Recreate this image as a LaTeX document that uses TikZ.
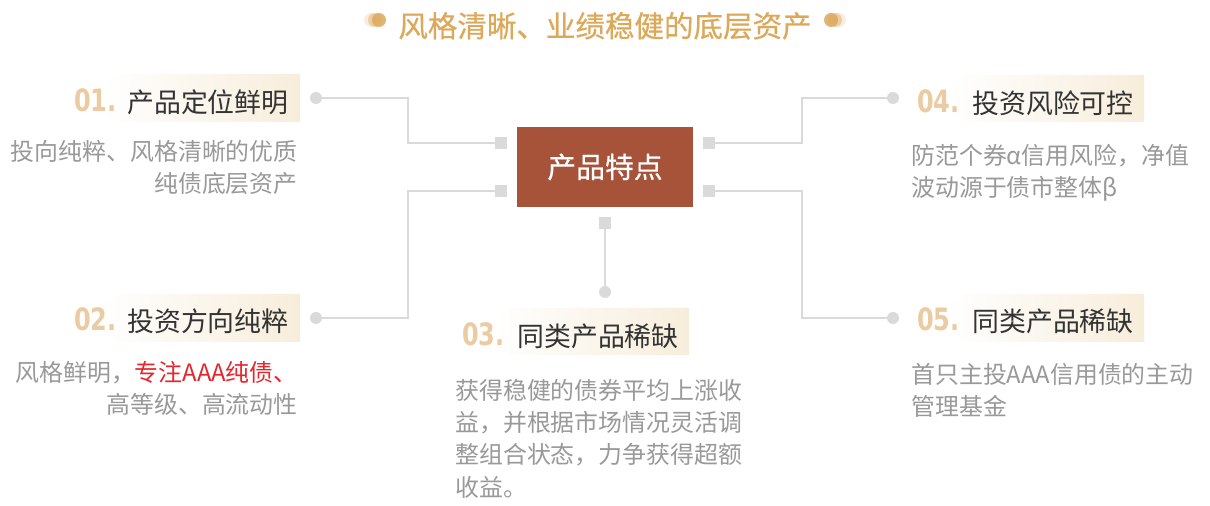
\documentclass[tikz,border=0pt]{standalone}
\usepackage{fontspec}
\setmainfont{Noto Sans CJK SC}
\newfontfamily\numfont[FakeStretch=0.78]{DejaVu Sans}
\newfontfamily\heavyfont[FakeBold=0.6]{Noto Sans CJK SC}
\usetikzlibrary{calc, positioning}

\definecolor{gold}{HTML}{DCA95B}
\definecolor{numTan}{HTML}{EBCBA1}
\definecolor{pillBeige}{HTML}{F7EDDB}
\definecolor{boxRed}{HTML}{A6533A}
\definecolor{lineGray}{HTML}{DADADA}
\definecolor{headGray}{HTML}{333333}
\definecolor{descGray}{HTML}{999999}
\definecolor{markRed}{HTML}{E5262D}

\tikzset{
  sqmark/.style={fill=lineGray, minimum size=0.24cm, inner sep=0pt},
  dotmark/.style={circle, fill=lineGray, minimum size=0.24cm, inner sep=0pt},
  conn/.style={draw=lineGray, line width=1.1pt},
  heading/.style={anchor=base west, inner sep=0pt, text=headGray,
    font=\fontsize{15.3pt}{18pt}\selectfont},
  number/.style={anchor=base east, inner sep=0pt, text=numTan,
    font=\numfont\bfseries\fontsize{17.5pt}{18pt}\selectfont},
  desc/.style={inner sep=0pt, text=descGray,
    font=\fontsize{13.6pt}{18.4pt}\selectfont},
  pill/.style={left color=white, right color=pillBeige},
  core/.style={fill=boxRed, text=white, minimum width=3.52cm, minimum height=1.6cm,
    inner sep=0pt, font=\heavyfont\fontsize{16.4pt}{18pt}\selectfont}
}

\begin{document}
\begin{tikzpicture}[x=0.02cm, y=-0.02cm]
      \useasboundingbox (0,0) rectangle (1210,506);
      \fill[white] (0,0) rectangle (1210,506);

      % --- Title ---
      \node[anchor=base, inner sep=0pt, text=gold,
        font=\heavyfont\fontsize{16.8pt}{18pt}\selectfont] (title) at (605,37)
        {风格清晰、业绩稳健的底层资产};
      \foreach \i/\o in {0/0.2, 1/0.45, 2/0.85}
        \fill[gold, opacity=\o] (371+4*\i,20) circle[radius=7];
      \foreach \i/\o in {0/0.85, 1/0.45, 2/0.2}
        \fill[gold, opacity=\o] (831+4*\i,20) circle[radius=7];

      % --- Central box and its marks ---
      \node[core] (core) at (605,167) {产品特点};

      \node[sqmark] (sqL1) at (501,143) {};
      \node[sqmark] (sqL2) at (501,191) {};
      \node[sqmark] (sqR1) at (709,143) {};
      \node[sqmark] (sqR2) at (709,191) {};
      \node[sqmark] (sqB)  at (605,223) {};

      \node[dotmark] (dot1) at (316,98) {};
      \node[dotmark] (dot2) at (316,318) {};
      \node[dotmark] (dot3) at (605,292) {};
      \node[dotmark] (dot4) at (893,98) {};
      \node[dotmark] (dot5) at (893,318) {};

      % --- Connectors ---
      \coordinate (kneeL) at (408,0);
      \coordinate (kneeR) at (802,0);

      \draw[conn] (sqL1) -- (sqL1 -| kneeL) |- (dot1);
      \draw[conn] (sqL2) -- (sqL2 -| kneeL) |- (dot2);
      \draw[conn] (sqR1) -- (sqR1 -| kneeR) |- (dot4);
      \draw[conn] (sqR2) -- (sqR2 -| kneeR) |- (dot5);
      \draw[conn] (sqB) -- (dot3);

      % --- Heading backgrounds ---
      \shade[pill] (300,74) -- (126,74) arc[start angle=270, end angle=90, radius=24] -- (300,122) -- cycle;
      \shade[pill] (300,294) -- (124,294) arc[start angle=270, end angle=90, radius=24] -- (300,342) -- cycle;
      \shade[pill] (689,308) -- (517,308) arc[start angle=270, end angle=90, radius=23.5] -- (689,355) -- cycle;
      \shade[pill] (1144,75) -- (971,75) arc[start angle=270, end angle=90, radius=23.5] -- (1144,122) -- cycle;
      \shade[pill] (1144,294) -- (971,294) arc[start angle=270, end angle=90, radius=24] -- (1144,342) -- cycle;

      % --- 01 ---
      \node[number] (num1) at (117,112) {01.};
      \node[heading] (head1) at (127,113) {产品定位鲜明};
      \node[desc, anchor=base east, align=right] (desc1) at (298,193)
        {投向纯粹、风格清晰的优质\\纯债底层资产};

      % --- 02 ---
      \node[number] (num2) at (117,331) {02.};
      \node[heading] (head2) at (127,332) {投资方向纯粹};
      \node[desc, anchor=base east, align=right] (desc2) at (298,414)
        {风格鲜明，{\color{markRed}专注AAA纯债、}\\高等级、高流动性};

      % --- 03 ---
      \node[number] (num3) at (505,346) {03.};
      \node[heading] (head3) at (517,347) {同类产品稀缺};
      \node[desc, anchor=base west, align=left] (desc3) at (455,496)
        {获得稳健的债券平均上涨收\\益，并根据市场情况灵活调\\整组合状态，力争获得超额\\收益。};

      % --- 04 ---
      \node[number] (num4) at (960,113) {04.};
      \node[heading] (head4) at (972,114) {投资风险可控};
      \node[desc, anchor=base west, align=left] (desc4) at (911,197)
        {防范个券α信用风险，净值\\波动源于债市整体β};

      % --- 05 ---
      \node[number] (num5) at (960,331) {05.};
      \node[heading] (head5) at (972,332) {同类产品稀缺};
      \node[desc, anchor=base west, align=left] (desc5) at (911,416)
        {首只主投AAA信用债的主动\\管理基金};
\end{tikzpicture}
\end{document}
